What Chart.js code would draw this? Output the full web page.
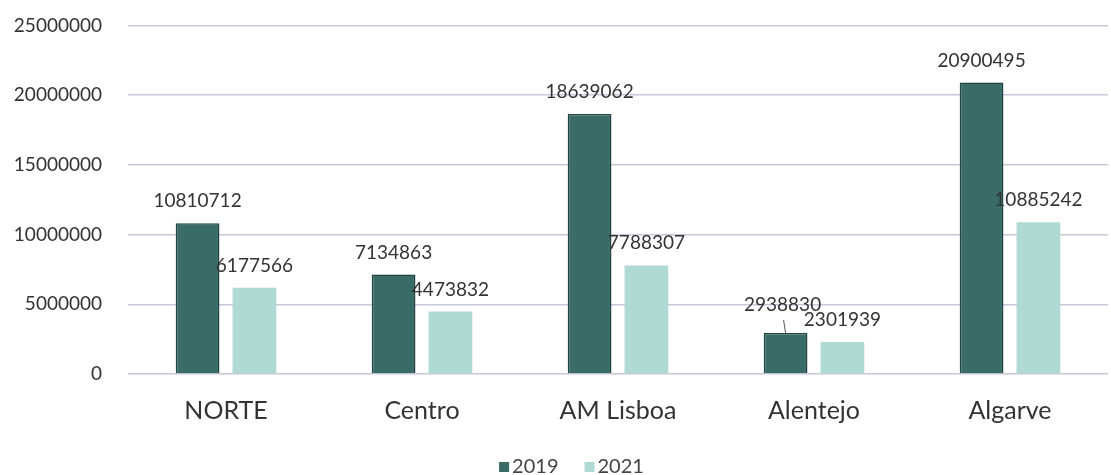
<!DOCTYPE html>
<html>
<head>
<meta charset="utf-8">
<script src="https://cdn.jsdelivr.net/npm/chart.js@4.4.1/dist/chart.umd.min.js"></script>
<style>
  html, body { margin: 0; padding: 0; background: #fff; }
  #wrap { width: 1111px; height: 475px; }
</style>
</head>
<body>
<div id="wrap"><canvas id="chart"></canvas></div>
<script>
const regions = ['NORTE', 'Centro', 'AM Lisboa', 'Alentejo', 'Algarve']
const values2019 = [10810712, 7134863, 18639062, 2938830, 20900495]
const values2021 = [6177566, 4473832, 7788307, 2301939, 10885242]

const FONT = 'Lato, "Open Sans", sans-serif'

// value labels above each bar; Alentejo 2019 gets pushed up with a short leader line
const barLabels = {
  id: 'barLabels',
  afterDatasetsDraw(chart) {
    const ctx = chart.ctx
    ctx.save()
    ctx.font = '19px ' + FONT
    ctx.fillStyle = '#333'
    ctx.textAlign = 'center'
    ctx.textBaseline = 'alphabetic'
    chart.data.datasets.forEach((ds, di) => {
      chart.getDatasetMeta(di).data.forEach((bar, i) => {
        let lift = 16
        const pushed = di === 0 && i === 3
        if (pushed) {
          lift = 22
          ctx.strokeStyle = '#555'
          ctx.lineWidth = 1
          ctx.beginPath()
          ctx.moveTo(bar.x, bar.y)
          ctx.lineTo(bar.x - 2, bar.y - 13)
          ctx.stroke()
        }
        ctx.fillText(String(ds.data[i]), bar.x - (pushed ? 3 : 0), bar.y - lift)
      })
    })
    ctx.restore()
  }
}

// small legend under the category labels
const bottomLegend = {
  id: 'bottomLegend',
  afterDraw(chart) {
    const ctx = chart.ctx
    const sets = chart.data.datasets
    ctx.save()
    ctx.font = '20px ' + FONT
    ctx.textBaseline = 'middle'
    const box = 10, gapBox = 3, gapItem = 26
    const widths = sets.map(ds => box + gapBox + ctx.measureText(ds.label).width)
    const total = widths.reduce((a, b) => a + b, 0) + gapItem * (sets.length - 1)
    let x = chart.width / 2 + 16 - total / 2
    const y = chart.height - 8
    sets.forEach((ds, i) => {
      ctx.fillStyle = ds.backgroundColor
      ctx.fillRect(x, y - box / 2, box, box)
      ctx.fillStyle = '#444'
      ctx.fillText(ds.label, x + box + gapBox, y)
      x += widths[i] + gapItem
    })
    ctx.restore()
  }
}

new Chart(document.getElementById('chart'), {
  type: 'bar',
  data: {
    labels: regions,
    datasets: [
      {
        label: '2019',
        data: values2019,
        backgroundColor: '#396c66',
        borderColor: '#22443f',
        borderWidth: 1.5,
        categoryPercentage: 0.58,
        barPercentage: 0.77
      },
      {
        label: '2021',
        data: values2021,
        backgroundColor: '#afdad4',
        borderWidth: 0,
        categoryPercentage: 0.58,
        barPercentage: 0.77
      }
    ]
  },
  options: {
    responsive: true,
    maintainAspectRatio: false,
    animation: false,
    layout: { padding: { top: 0, right: 3, left: 10, bottom: 0 } },
    plugins: {
      legend: { display: false },
      tooltip: { enabled: false }
    },
    scales: {
      x: {
        grid: { display: false },
        border: { display: false },
        ticks: {
          color: '#333',
          padding: 14,
          font: { family: FONT, size: 25 }
        },
        afterFit: s => { s.height = 101 }
      },
      y: {
        min: 0,
        max: 25000000,
        grid: { color: '#c6c8dc', lineWidth: 1.5, tickLength: 12, tickColor: 'rgba(0,0,0,0)' },
        border: { display: false },
        ticks: {
          stepSize: 5000000,
          padding: 14,
          color: '#333',
          font: { family: FONT, size: 19 },
          callback: v => String(v)
        },
        afterFit: s => { s.width = 118 }
      }
    }
  },
  plugins: [barLabels, bottomLegend]
})
</script>
</body>
</html>
